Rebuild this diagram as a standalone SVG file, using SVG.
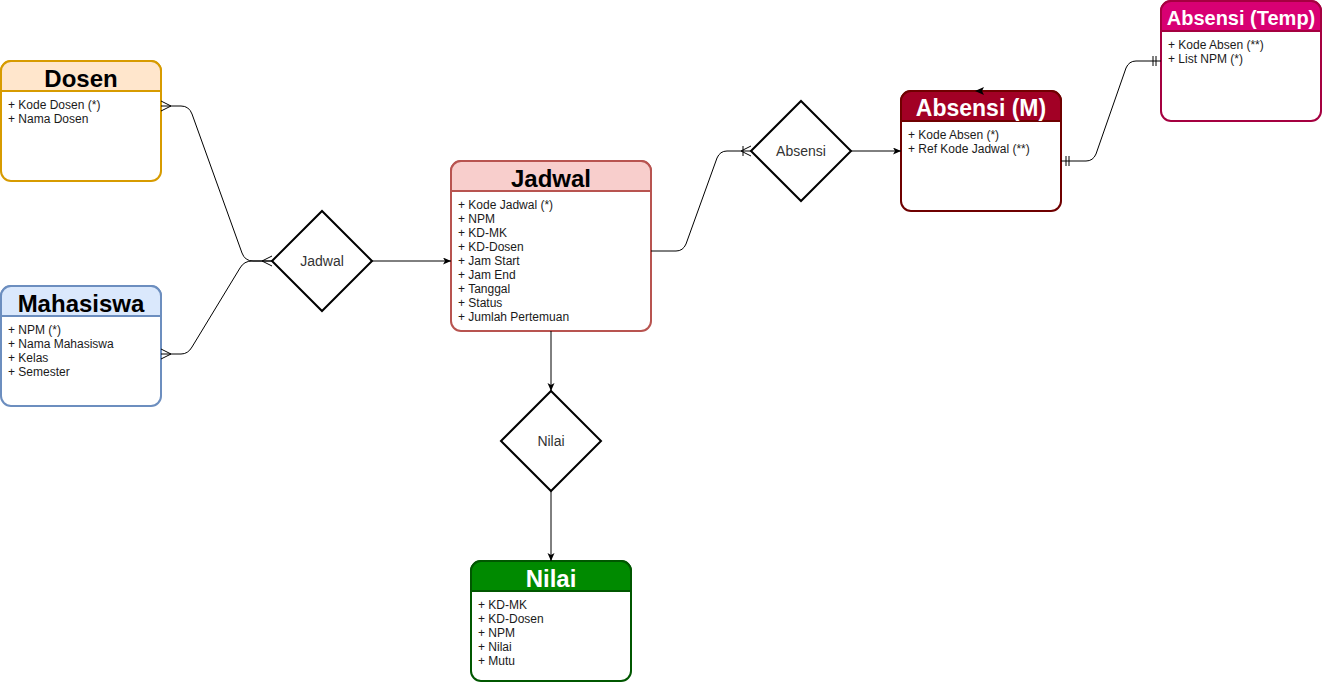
<svg xmlns="http://www.w3.org/2000/svg" width="1323" height="683" viewBox="0 0 1323 683">
<style>
.body{fill:#ffffff;stroke-width:2}
.hdr{stroke-width:2}
.title{font-family:"Liberation Sans",Arial,sans-serif;font-weight:bold;font-size:24px;text-anchor:middle}
.attr{font-family:"Liberation Sans",Arial,sans-serif;font-size:12px;fill:#1a1a1a}
.dia{fill:#ffffff;stroke:#000000;stroke-width:2}
.dlab{font-family:"Liberation Sans",Arial,sans-serif;font-size:14px;fill:#333333;text-anchor:middle}
.edge{fill:none;stroke:#000000;stroke-width:1}
</style>
<defs>
<marker id="arr" markerUnits="userSpaceOnUse" markerWidth="10" markerHeight="8" refX="8" refY="3.5" orient="auto">
<path d="M0,0 L8,3.5 L0,7 L2,3.5 Z" fill="#000000"/>
</marker>
</defs>
<rect width="1323" height="683" fill="#ffffff"/>

<g id="dosen">
<rect class="body" x="1" y="61" width="160" height="120" rx="10" stroke="#d79b00"/>
<path class="hdr" d="M1,91 V71 A10,10 0 0 1 11,61 H151 A10,10 0 0 1 161,71 V91 Z" fill="#ffe6cc" stroke="#d79b00"/>
<text class="title" x="81" y="87" fill="#000000">Dosen</text>
<text class="attr" x="8" y="109">+ Kode Dosen (*)</text>
<text class="attr" x="8" y="123">+ Nama Dosen</text>
</g>

<g id="mahasiswa">
<rect class="body" x="1" y="286" width="160" height="120" rx="10" stroke="#6c8ebf"/>
<path class="hdr" d="M1,316 V296 A10,10 0 0 1 11,286 H151 A10,10 0 0 1 161,296 V316 Z" fill="#dae8fc" stroke="#6c8ebf"/>
<text class="title" x="81" y="312" fill="#000000">Mahasiswa</text>
<text class="attr" x="8" y="334">+ NPM (*)</text>
<text class="attr" x="8" y="348">+ Nama Mahasiswa</text>
<text class="attr" x="8" y="362">+ Kelas</text>
<text class="attr" x="8" y="376">+ Semester</text>
</g>

<g id="rel-jadwal">
<polygon class="dia" points="272,261 322,211 372,261 322,311"/>
<text class="dlab" x="322" y="266">Jadwal</text>
</g>

<g id="jadwal">
<rect class="body" x="451" y="161" width="200" height="170" rx="10" stroke="#b85450"/>
<path class="hdr" d="M451,191 V171 A10,10 0 0 1 461,161 H641 A10,10 0 0 1 651,171 V191 Z" fill="#f8cecc" stroke="#b85450"/>
<text class="title" x="551" y="187" fill="#000000">Jadwal</text>
<text class="attr" x="458" y="209">+ Kode Jadwal (*)</text>
<text class="attr" x="458" y="223">+ NPM</text>
<text class="attr" x="458" y="237">+ KD-MK</text>
<text class="attr" x="458" y="251">+ KD-Dosen</text>
<text class="attr" x="458" y="265">+ Jam Start</text>
<text class="attr" x="458" y="279">+ Jam End</text>
<text class="attr" x="458" y="293">+ Tanggal</text>
<text class="attr" x="458" y="307">+ Status</text>
<text class="attr" x="458" y="321">+ Jumlah Pertemuan</text>
</g>

<g id="rel-nilai">
<polygon class="dia" points="501,441 551,391 601,441 551,491"/>
<text class="dlab" x="551" y="446">Nilai</text>
</g>

<g id="nilai">
<rect class="body" x="471" y="561" width="160" height="120" rx="10" stroke="#005700"/>
<path class="hdr" d="M471,591 V571 A10,10 0 0 1 481,561 H621 A10,10 0 0 1 631,571 V591 Z" fill="#008a00" stroke="#005700"/>
<text class="title" x="551" y="587" fill="#ffffff">Nilai</text>
<text class="attr" x="478" y="609">+ KD-MK</text>
<text class="attr" x="478" y="623">+ KD-Dosen</text>
<text class="attr" x="478" y="637">+ NPM</text>
<text class="attr" x="478" y="651">+ Nilai</text>
<text class="attr" x="478" y="665">+ Mutu</text>
</g>

<g id="rel-absensi">
<polygon class="dia" points="751,151 801,101 851,151 801,201"/>
<text class="dlab" x="801" y="156">Absensi</text>
</g>

<g id="absensi-m">
<rect class="body" x="901" y="91" width="160" height="120" rx="10" stroke="#6f0000"/>
<path class="hdr" d="M901,121 V101 A10,10 0 0 1 911,91 H1051 A10,10 0 0 1 1061,101 V121 Z" fill="#a20025" stroke="#6f0000"/>
<text class="title" x="981" y="116" fill="#ffffff" style="font-size:23px">Absensi (M)</text>
<text class="attr" x="908" y="139">+ Kode Absen (*)</text>
<text class="attr" x="908" y="153">+ Ref Kode Jadwal (**)</text>
</g>

<g id="absensi-temp">
<rect class="body" x="1161" y="1" width="160" height="120" rx="10" stroke="#a50040"/>
<path class="hdr" d="M1161,31 V11 A10,10 0 0 1 1171,1 H1311 A10,10 0 0 1 1321,11 V31 Z" fill="#d80073" stroke="#a50040"/>
<text class="title" x="1241" y="25" fill="#ffffff" style="font-size:20px">Absensi (Temp)</text>
<text class="attr" x="1168" y="49">+ Kode Absen (**)</text>
<text class="attr" x="1168" y="63">+ List NPM (*)</text>
</g>

<g id="connectors">
<path class="edge" d="M161,106 L181,106 Q189,106 192,114 L242,253 Q245,261 253,261 L272,261"/>
<path class="edge" d="M161,101 L171,106 L161,111"/>
<path class="edge" d="M161,354 L181,354 Q188,354 192,347 L240,268 Q244,261 252,261 L272,261"/>
<path class="edge" d="M161,349 L171,354 L161,359"/>
<path class="edge" d="M262,261 L272,256 M262,261 L272,266"/>
<path class="edge" d="M372,261 L451,261" marker-end="url(#arr)"/>
<path class="edge" d="M651,251 L676,251 Q683,251 686,244 L717,158 Q720,151 727,151 L751,151"/>
<path class="edge" d="M743,146 L743,156 M741,151 L751,146 M741,151 L751,156"/>
<path class="edge" d="M851,151 L901,151" marker-end="url(#arr)"/>
<path class="edge" d="M1061,161 L1086,161 Q1093,161 1096,154 L1126,68 Q1129,61 1136,61 L1161,61"/>
<path class="edge" d="M1066,156 L1066,166 M1069,156 L1069,166"/>
<path class="edge" d="M1153,56 L1153,66 M1156,56 L1156,66"/>
<path class="edge" d="M551,331 L551,391" marker-end="url(#arr)"/>
<path class="edge" d="M551,491 L551,561" marker-end="url(#arr)"/>
<path d="M975,91 L984,87 L982,91 L984,95 Z" fill="#000000"/>
</g>
</svg>
